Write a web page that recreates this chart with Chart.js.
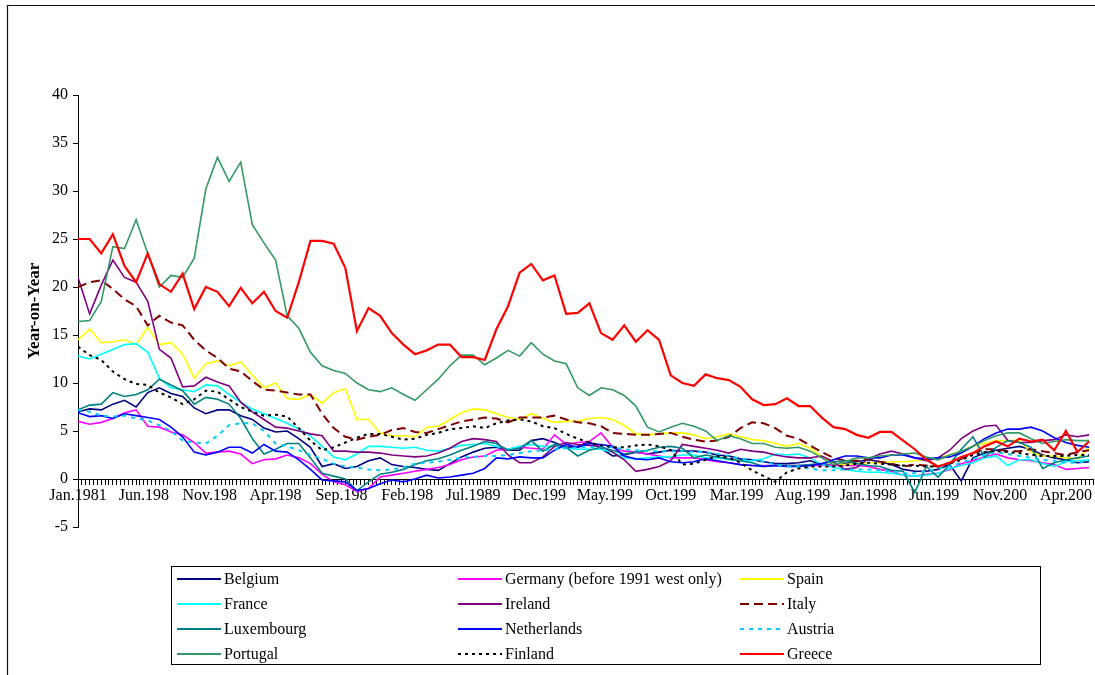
<!DOCTYPE html>
<html>
<head>
<meta charset="utf-8">
<script src="https://cdn.jsdelivr.net/npm/chart.js@4.4.0/dist/chart.umd.min.js"></script>
<style>
  html,body{margin:0;padding:0;background:#fff;}
  #wrap{width:1095px;height:675px;position:relative;}
</style>
</head>
<body>
<div id="wrap"><canvas id="chart" width="1095" height="675"></canvas></div>
<script>
// --- data: month index from Jan.1981, one reading per quarter
const months = [0,3,6,9,12,15,18,21,24,27,30, 33,36,39,42,45,48,51,54,57,60,63,
  66,69,72,75,78,81,84,87,90,93,96, 99,102,105,108,111,114,117,120,123,126,129,
  132,135,138,141,144,147,150,153,156,159,162, 165,168,171,174,177,180,183,186,189,192,195,
  198,201,204,207,210,213,216,219,222,225,228, 231,234,237,240,243,246,249,252,255,258,261];

const tickLabels = ['Jan.1981','Jun.198','Nov.198','Apr.198','Sep.198','Feb.198','Jul.1989','Dec.199',
  'May.199','Oct.199','Mar.199','Aug.199','Jan.1998','Jun.199','Nov.200','Apr.200'];

const belgium = [7.0,7.3,7.2,7.8,8.2,7.5,9.0,9.5,8.9,8.6,7.4, 6.8,7.2,7.2,6.6,6.2,5.3,4.9,5.0,4.2,3.3,1.3,
  1.6,1.1,1.3,1.9,2.2,1.5,1.3,1.2,1.0,0.9,1.6, 2.3,2.8,3.2,3.3,3.0,3.0,4.0,4.2,3.8,3.3,3.4,
  3.9,3.2,2.4,2.5,2.8,2.6,2.8,3.0,2.9,2.9,2.8, 2.5,2.4,2.1,2.0,1.8,1.6,1.6,1.7,1.9,1.5,1.4,
  1.6,1.8,2.0,1.8,1.5,1.0,0.8,0.8,1.0,1.5,-0.2, 2.2,2.7,3.0,3.2,3.4,3.1,2.5,2.2,2.0,1.7,1.8];
const germany = [6.0,5.7,5.9,6.3,6.9,7.2,5.5,5.4,4.9,4.6,3.8, 2.7,2.8,2.9,2.6,1.6,2.0,2.1,2.5,2.2,1.6,0.5,
  -0.3,-0.6,-1.3,-1.0,0.2,0.4,0.6,0.8,1.0,1.2,1.5, 2.0,2.3,2.4,3.0,3.1,3.3,3.2,3.1,4.6,3.6,3.8,
  3.9,4.8,3.3,2.9,2.8,2.6,2.4,2.2,2.2,2.2,2.0, 1.8,1.7,1.5,1.4,1.4,1.4,1.4,1.4,1.4,1.4,1.4,
  1.4,1.4,1.3,1.0,0.8,0.4,0.3,0.5,0.6,1.0,1.6, 1.9,2.3,2.6,2.2,2.0,1.9,1.7,1.5,1.0,1.1,1.2];
const spain = [14.5,15.6,14.2,14.3,14.5,14.0,15.8,14.0,14.2,13.0,10.5, 12.0,12.3,11.8,12.2,10.8,9.5,10.0,8.4,8.3,8.8,7.9,
  9.0,9.4,6.2,6.2,4.8,4.5,4.5,4.4,5.4,5.5,6.2, 6.9,7.3,7.2,6.8,6.4,6.2,6.8,6.3,5.9,6.0,6.0,
  6.3,6.4,6.2,5.6,4.7,4.6,4.7,4.8,4.8,4.6,4.2, 4.4,4.7,4.4,4.1,4.0,3.7,3.4,3.7,3.2,2.3,1.6,
  1.5,1.6,1.7,1.7,1.8,1.8,1.9,2.0,2.2,2.5,2.9, 3.4,3.7,4.0,4.0,4.0,2.8,2.4,2.4,2.2,2.1,3.3];
const france = [12.8,12.5,13.0,13.5,14.0,14.1,13.2,10.5,9.5,9.3,9.1, 9.8,9.7,8.8,8.0,7.3,6.8,6.3,5.8,5.2,4.5,3.4,
  2.3,2.0,2.6,3.4,3.4,3.3,3.2,3.3,3.0,2.9,3.2, 3.5,3.6,3.7,3.4,3.1,3.4,3.6,3.4,3.4,3.2,3.1,
  3.1,3.1,2.8,2.2,2.1,2.2,2.3,2.3,2.5,2.5,2.2, 2.2,2.0,1.9,1.9,2.1,2.6,2.5,2.6,2.2,1.5,1.2,
  1.0,0.8,0.7,0.7,0.6,0.4,0.3,0.4,0.6,1.1,1.4, 1.7,2.2,2.4,1.4,2.0,2.0,1.6,1.3,1.8,1.9,2.0];
const ireland = [21.0,17.2,20.2,22.8,21.0,20.5,18.5,13.5,12.6,9.6,9.7, 10.6,10.1,9.7,8.0,7.0,6.2,5.4,5.3,5.0,4.7,4.5,
  2.9,2.9,2.8,2.8,2.7,2.5,2.4,2.3,2.4,2.7,3.2, 3.9,4.2,4.1,3.9,2.5,1.7,1.7,2.3,3.4,3.8,3.6,
  3.5,3.4,2.8,2.0,0.8,1.0,1.3,1.9,3.6,3.4,3.2, 3.0,2.7,3.1,2.9,2.8,2.5,2.3,2.2,2.2,2.4,1.8,
  1.0,1.2,2.1,2.6,2.9,2.6,2.2,1.9,2.2,3.0,4.2, 5.0,5.5,5.6,4.0,3.8,3.8,4.0,4.1,4.6,4.4,4.6];
const italy = [20.0,20.5,20.7,19.8,18.7,18.0,16.0,17.0,16.3,16.0,14.5, 13.4,12.6,11.5,11.2,10.2,9.3,9.2,9.0,8.8,8.8,6.8,
  5.3,4.4,4.1,4.4,4.6,5.1,5.3,4.9,4.8,5.2,5.6, 6.0,6.2,6.4,6.3,5.9,6.4,6.4,6.4,6.6,6.2,5.9,
  5.8,5.5,4.8,4.7,4.6,4.6,4.7,4.8,4.4,4.1,3.9, 4.0,4.4,5.3,5.9,5.8,5.3,4.5,4.2,3.5,2.8,2.2,
  1.9,1.9,2.1,1.8,1.6,1.3,1.5,1.4,1.3,1.7,2.1, 2.7,3.1,3.1,2.9,2.9,3.1,2.9,2.7,2.5,2.8,3.0];
const luxembourg = [7.2,7.7,7.8,9.0,8.6,8.8,9.3,10.4,9.8,9.2,7.8, 8.5,8.3,7.8,6.3,4.2,2.6,3.1,3.7,3.7,2.2,0.6,
  0.3,0.0,-1.2,-0.3,0.5,0.7,1.0,1.5,1.9,2.1,2.5, 3.0,3.4,3.9,3.7,3.0,3.2,4.0,2.9,3.6,3.3,2.4,
  3.0,3.3,3.0,2.6,2.8,3.0,3.3,3.4,3.2,2.2,2.5, 2.3,2.1,1.9,1.7,1.3,1.4,1.4,1.4,1.5,1.6,1.8,
  1.9,1.6,1.4,1.3,0.9,0.8,-1.4,1.3,0.2,1.5,3.1, 4.4,2.3,3.3,4.0,3.8,3.3,1.1,1.7,2.0,2.2,2.4];
const netherlands = [6.9,6.5,6.6,6.3,6.8,6.6,6.4,6.2,5.4,4.4,2.8, 2.5,2.8,3.3,3.3,2.7,3.6,2.9,2.8,2.0,1.0,-0.1,
  -0.2,-0.3,-1.2,-1.0,-0.5,-0.1,-0.3,0.0,0.4,0.1,0.2, 0.4,0.6,1.1,2.2,2.1,2.3,2.2,2.2,3.0,3.6,3.3,
  3.7,3.6,3.4,2.4,2.1,2.0,2.2,1.8,1.7,1.8,2.1, 1.9,1.7,1.5,1.4,1.3,1.4,1.3,1.3,1.4,1.6,2.0,
  2.4,2.4,2.2,2.2,2.5,2.5,2.2,2.1,2.2,2.3,2.7, 3.4,4.2,4.8,5.2,5.2,5.4,5.0,4.3,3.8,3.5,3.3];
const austria = [7.2,7.0,6.6,6.5,6.6,6.3,6.1,5.6,5.0,4.0,3.8, 3.7,4.5,5.6,5.8,5.8,5.0,3.7,3.4,3.0,2.5,2.1,
  1.6,1.3,1.2,1.0,0.9,1.0,1.2,1.6,1.7,1.8,2.0, 2.2,2.3,2.4,2.4,2.5,2.7,2.9,3.0,3.1,3.2,3.3,
  3.3,3.4,3.3,3.1,3.0,2.9,2.9,2.9,2.9,2.8,2.8, 2.6,2.4,2.1,2.0,1.8,1.5,1.3,1.3,1.1,0.9,0.9,
  1.0,1.0,1.0,0.9,0.8,0.6,0.6,0.8,1.1,1.3,1.7, 2.1,2.5,2.8,2.6,2.4,2.2,2.0,1.9,1.7,1.7,1.9];
const portugal = [16.4,16.5,18.5,24.2,24.0,27.0,23.5,20.0,21.2,21.0,23.0, 30.2,33.5,31.0,33.0,26.5,24.6,22.8,17.0,15.7,13.2,11.8,
  11.3,11.0,10.0,9.3,9.1,9.5,8.8,8.2,9.3,10.4,11.8, 12.9,12.9,11.9,12.6,13.4,12.8,14.2,13.0,12.3,12.0,9.5,
  8.7,9.5,9.3,8.7,7.6,5.4,4.9,5.4,5.8,5.5,5.0, 4.0,4.5,4.2,3.7,3.7,3.3,3.2,3.3,2.9,2.2,1.5,
  1.8,2.2,2.2,2.4,2.5,2.6,2.7,2.3,2.0,2.5,2.9, 3.4,4.0,4.5,4.8,4.8,4.2,3.7,3.9,4.1,4.0,4.0];
const finland = [13.8,12.9,12.4,11.2,10.4,9.9,9.8,9.0,8.5,7.8,8.3, 9.2,9.1,8.3,7.5,7.0,6.6,6.7,6.5,5.3,4.0,3.0,
  3.3,3.8,4.3,4.7,4.7,4.4,4.1,4.2,4.6,4.8,5.2, 5.3,5.5,5.3,5.8,6.1,6.2,6.0,5.5,5.3,4.7,4.2,
  3.8,3.5,3.3,3.3,3.5,3.6,3.4,3.0,1.5,1.6,2.0, 2.4,2.2,1.7,0.9,0.3,-0.3,0.7,1.1,1.3,1.3,1.3,
  1.4,1.6,1.7,1.6,1.5,1.4,1.4,1.3,1.3,1.6,2.0, 2.5,2.8,2.9,2.8,2.7,2.5,2.4,2.4,2.4,2.5,2.5];
const greece = [25.0,25.0,23.5,25.5,22.2,20.5,23.5,20.3,19.5,21.4,17.7, 20.0,19.5,18.0,19.9,18.3,19.5,17.5,16.8,20.5,24.8,24.8,
  24.5,22.0,15.4,17.8,17.0,15.2,14.0,13.0,13.4,14.0,14.0, 12.7,12.7,12.4,15.6,18.0,21.5,22.4,20.7,21.2,17.2,17.3,
  18.3,15.2,14.5,16.0,14.3,15.5,14.5,10.8,10.0,9.7,10.9, 10.5,10.3,9.6,8.3,7.7,7.8,8.4,7.6,7.6,6.4,5.4,
  5.2,4.6,4.3,4.9,4.9,4.0,3.1,2.0,1.3,1.7,2.3, 2.7,3.4,3.9,3.4,4.2,3.9,4.1,3.0,5.0,2.8,3.9];

const serif = "'Liberation Serif','Times New Roman',serif";

// legend order is row by row, three per row
const series = [
  {name:'Belgium', values:belgium, color:'#000080', width:1.6, dash:[]},
  {name:'Germany (before 1991 west only)', values:germany, color:'#FF00FF', width:1.6, dash:[]},
  {name:'Spain', values:spain, color:'#FFFF00', width:1.6, dash:[]},
  {name:'France', values:france, color:'#00FFFF', width:1.6, dash:[]},
  {name:'Ireland', values:ireland, color:'#800080', width:1.6, dash:[]},
  {name:'Italy', values:italy, color:'#800000', width:2, dash:[9,5]},
  {name:'Luxembourg', values:luxembourg, color:'#008080', width:1.6, dash:[]},
  {name:'Netherlands', values:netherlands, color:'#0000FF', width:1.6, dash:[]},
  {name:'Austria', values:austria, color:'#00CCFF', width:2, dash:[4,5]},
  {name:'Portugal', values:portugal, color:'#339966', width:1.6, dash:[]},
  {name:'Finland', values:finland, color:'#000000', width:2, dash:[3,4]},
  {name:'Greece', values:greece, color:'#FF0000', width:2.2, dash:[]}
];

// --- frame + boxed legend drawn on the canvas
const framePlugin = {
  id:'frame',
  afterDraw(chart){
    const c = chart.ctx;
    c.save();
    c.strokeStyle = '#111'; c.lineWidth = 1.2;
    c.beginPath(); c.moveTo(7.5,675); c.lineTo(7.5,5.5); c.lineTo(1095,5.5); c.stroke();

    c.strokeStyle = '#000'; c.lineWidth = 1;
    c.strokeRect(171.5,566.5,869,98);

    const colX = [177,458,740], rowY = [579,604,629,654];
    c.font = '16px ' + serif; c.textBaseline = 'middle'; c.fillStyle = '#000';
    chart.data.datasets.forEach((d,i)=>{
      const x = colX[i%3], y = rowY[Math.floor(i/3)];
      c.strokeStyle = d.borderColor; c.lineWidth = 2;
      c.setLineDash(d.borderDash.length ? d.borderDash : []);
      c.beginPath(); c.moveTo(x,y); c.lineTo(x+44,y); c.stroke();
      c.setLineDash([]);
      c.fillText(d.label, x+47, y+1);
    });
    c.restore();
  }
};

const monthTicks = [];
for(let m=0;m<=262;m++) monthTicks.push({value:m});

const ctx = document.getElementById('chart').getContext('2d');
new Chart(ctx,{
  type:'line',
  data:{
    datasets: series.map((s,i)=>({
      label:s.name,
      data:months.map((m,k)=>({x:m,y:s.values[k]})),
      borderColor:s.color, backgroundColor:s.color,
      borderWidth:s.width, borderDash:s.dash,
      pointRadius:0, tension:0, fill:false,
      order:series.length-1-i
    }))
  },
  options:{
    responsive:false, animation:false, devicePixelRatio:1,
    layout:{padding:{left:20,top:95,right:0,bottom:148}},
    plugins:{legend:{display:false},tooltip:{enabled:false}},
    scales:{
      x:{
        type:'linear', min:0, max:262, position:{y:0},
        afterBuildTicks:s=>{ s.ticks = monthTicks.map(t=>({value:t.value})); },
        ticks:{autoSkip:false, maxRotation:0, minRotation:0, padding:2, color:'#000',
          font:{family:serif,size:16},
          callback:v=> v%17===0 ? tickLabels[v/17] : ''},
        grid:{drawOnChartArea:false, drawTicks:true, tickLength:5, color:'#000'},
        border:{color:'#000',width:1}
      },
      y:{
        min:-5, max:40,
        afterFit:s=>{ s.width = 58; },
        ticks:{stepSize:5, padding:5, color:'#000', font:{family:serif,size:16}},
        grid:{drawOnChartArea:false, tickLength:5, color:'#000'},
        border:{color:'#000',width:1},
        title:{display:true, text:'Year-on-Year', color:'#000',
          font:{family:serif,size:17,weight:'bold'}, padding:{top:4,bottom:4}}
      }
    }
  },
  plugins:[framePlugin]
});
</script>
</body>
</html>
